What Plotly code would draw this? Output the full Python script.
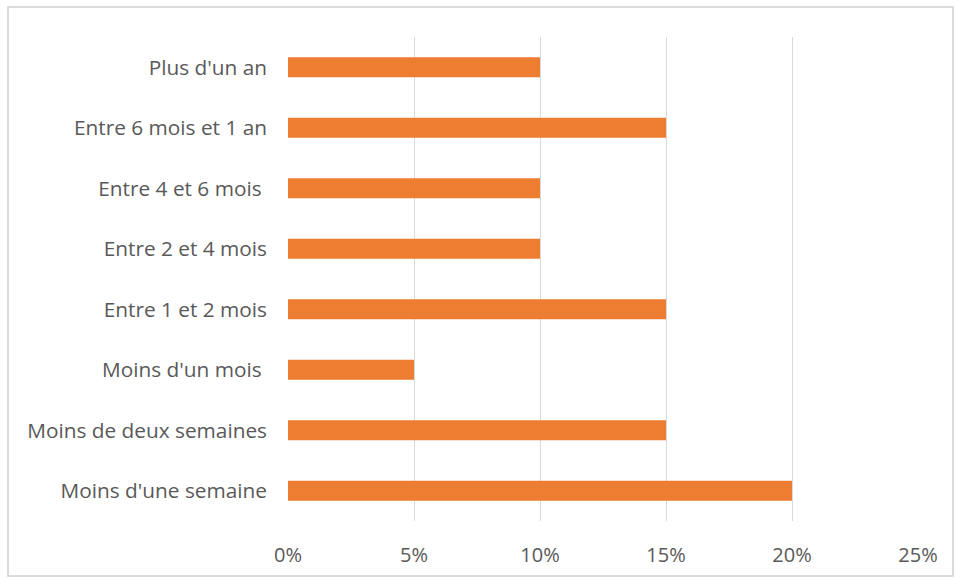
import plotly.graph_objects as go

# Durées (de bas en haut) et part des répondants
categories = [
    "Moins d'une semaine",
    "Moins de deux semaines",
    "Moins d'un mois\u00a0",
    "Entre 1 et 2 mois",
    "Entre 2 et 4 mois",
    "Entre 4 et 6 mois\u00a0",
    "Entre 6 mois et 1 an",
    "Plus d'un an",
]
values = [0.20, 0.15, 0.05, 0.15, 0.10, 0.10, 0.15, 0.10]
x_ticks = [0, 0.05, 0.10, 0.15, 0.20, 0.25]
x_tick_labels = ["0%", "5%", "10%", "15%", "20%", "25%"]

W, H = 956, 579
L, R, T, B = 288, 38, 37, 58
pw, ph = W - L - R, H - T - B

fig = go.Figure(
    go.Bar(
        x=values,
        y=categories,
        orientation="h",
        marker=dict(color="#ED7D31", line=dict(width=0)),
        hoverinfo="x+y",
    )
)

font = dict(family="'Open Sans', Lato, sans-serif", size=20.8, color="#595959")

# cadre du graphique, en pixels convertis en coordonnées papier
def px_x(p):
    return (p - L) / pw

def px_y(p):
    return (H - B - p) / ph

fig.add_shape(
    type="rect", xref="paper", yref="paper",
    x0=px_x(8), x1=px_x(953), y0=px_y(7), y1=px_y(576),
    line=dict(color="#d0d0d0", width=1.5), fillcolor="rgba(0,0,0,0)",
    layer="below",
)

fig.update_layout(
    width=W, height=H,
    margin=dict(l=L, r=R, t=T, b=B, pad=0),
    paper_bgcolor="white", plot_bgcolor="white",
    bargap=0.67,
    showlegend=False,
    font=font,
    xaxis=dict(
        range=[0, 0.25],
        tickvals=x_ticks, ticktext=x_tick_labels,
        tickfont=dict(size=20),
        showgrid=True, gridcolor="#d9d9d9", gridwidth=1,
        zeroline=False, showline=False, ticks="",
        ticklabelstandoff=20,
        fixedrange=True,
    ),
    yaxis=dict(
        categoryorder="array", categoryarray=categories,
        showgrid=False, zeroline=False, showline=False, ticks="",
        ticklabelstandoff=20,
        fixedrange=True,
    ),
)

fig.write_html("out.html")
